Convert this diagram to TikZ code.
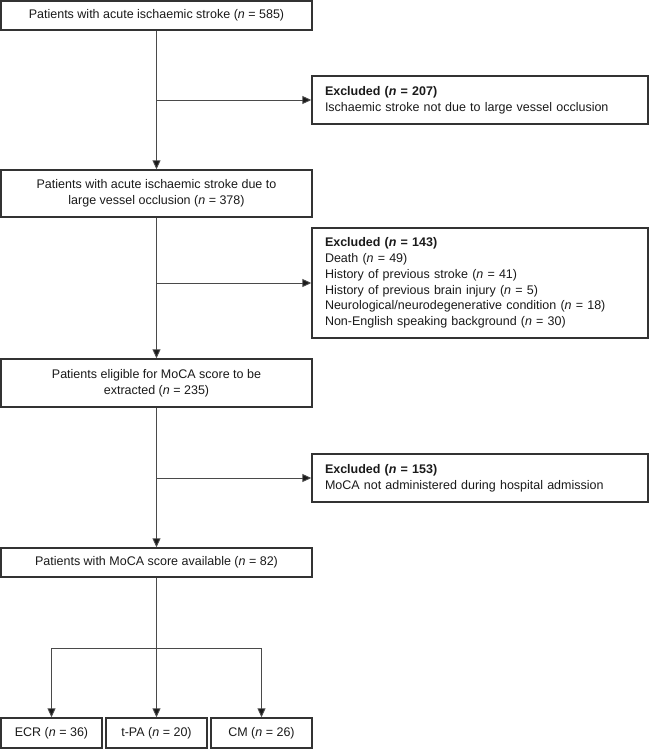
\documentclass[tikz,border=0pt]{standalone}
\usepackage{fontspec}
\setmainfont{Liberation Sans}
\usetikzlibrary{arrows.meta}
\definecolor{edge}{HTML}{333333}
\definecolor{conn}{HTML}{4A4A4A}
\definecolor{txt}{HTML}{1A1A1A}
\begin{document}
\begin{tikzpicture}[x=1pt,y=-1pt,
  font=\fontsize{12.5}{15.8}\selectfont,
  box/.style={draw=edge,line width=1.4pt,rectangle,inner sep=0pt,text=txt,align=center},
  exbox/.style={draw=edge,line width=1.4pt,rectangle,inner xsep=13pt,inner ysep=0pt,text=txt,align=left,text width=310pt,minimum width=336pt},
  conn/.style={draw=conn,line width=0.9pt},
  arr/.style={conn,-{Triangle[length=9pt,width=8pt,fill=txt]}}
]
\useasboundingbox (0,0) rectangle (650,749);
\node[box,minimum width=311pt,minimum height=29pt] (b1) at (156.5,15.5) {Patients with acute ischaemic stroke (\textit{n} = 585)};
\node[box,minimum width=311pt,minimum height=47pt] (b2) at (156.5,193.5) {Patients with acute ischaemic stroke due to\\large vessel occlusion (\textit{n} = 378)};
\node[box,minimum width=311pt,minimum height=48pt] (b3) at (156.5,383) {Patients eligible for MoCA score to be\\extracted (\textit{n} = 235)};
\node[box,minimum width=311pt,minimum height=29pt] (b4) at (156.5,562.5) {Patients with MoCA score available (\textit{n} = 82)};
\node[exbox,minimum height=48pt] (e1) at (480,100) {\textbf{Excluded (\textit{n} = 207)}\\Ischaemic stroke not due to large vessel occlusion};
\node[exbox,minimum height=110pt] (e2) at (480,283) {\textbf{Excluded (\textit{n} = 143)}\\Death (\textit{n} = 49)\\History of previous stroke (\textit{n} = 41)\\History of previous brain injury (\textit{n} = 5)\\Neurological/neurodegenerative condition (\textit{n} = 18)\\Non-English speaking background (\textit{n} = 30)};
\node[exbox,minimum height=48pt] (e3) at (480,478) {\textbf{Excluded (\textit{n} = 153)}\\MoCA not administered during hospital admission};
\node[box,minimum width=101pt,minimum height=30pt] (ecr) at (51.5,733) {ECR (\textit{n} = 36)};
\node[box,minimum width=101pt,minimum height=30pt] (tpa) at (156.5,733) {t-PA (\textit{n} = 20)};
\node[box,minimum width=101pt,minimum height=30pt] (cm) at (261.5,733) {CM (\textit{n} = 26)};
\coordinate (split) at (156.5,648);
\draw[arr] (b1.south) -- (b2.north);
\draw[arr] (b1.south |- e1.west) -- (e1.west);
\draw[arr] (b2.south) -- (b3.north);
\draw[arr] (b2.south |- e2.west) -- (e2.west);
\draw[arr] (b3.south) -- (b4.north);
\draw[arr] (b3.south |- e3.west) -- (e3.west);
\draw[arr] (b4.south) -- (tpa.north);
\draw[arr] (split) -| (ecr.north);
\draw[arr] (split) -| (cm.north);
\end{tikzpicture}
\end{document}
